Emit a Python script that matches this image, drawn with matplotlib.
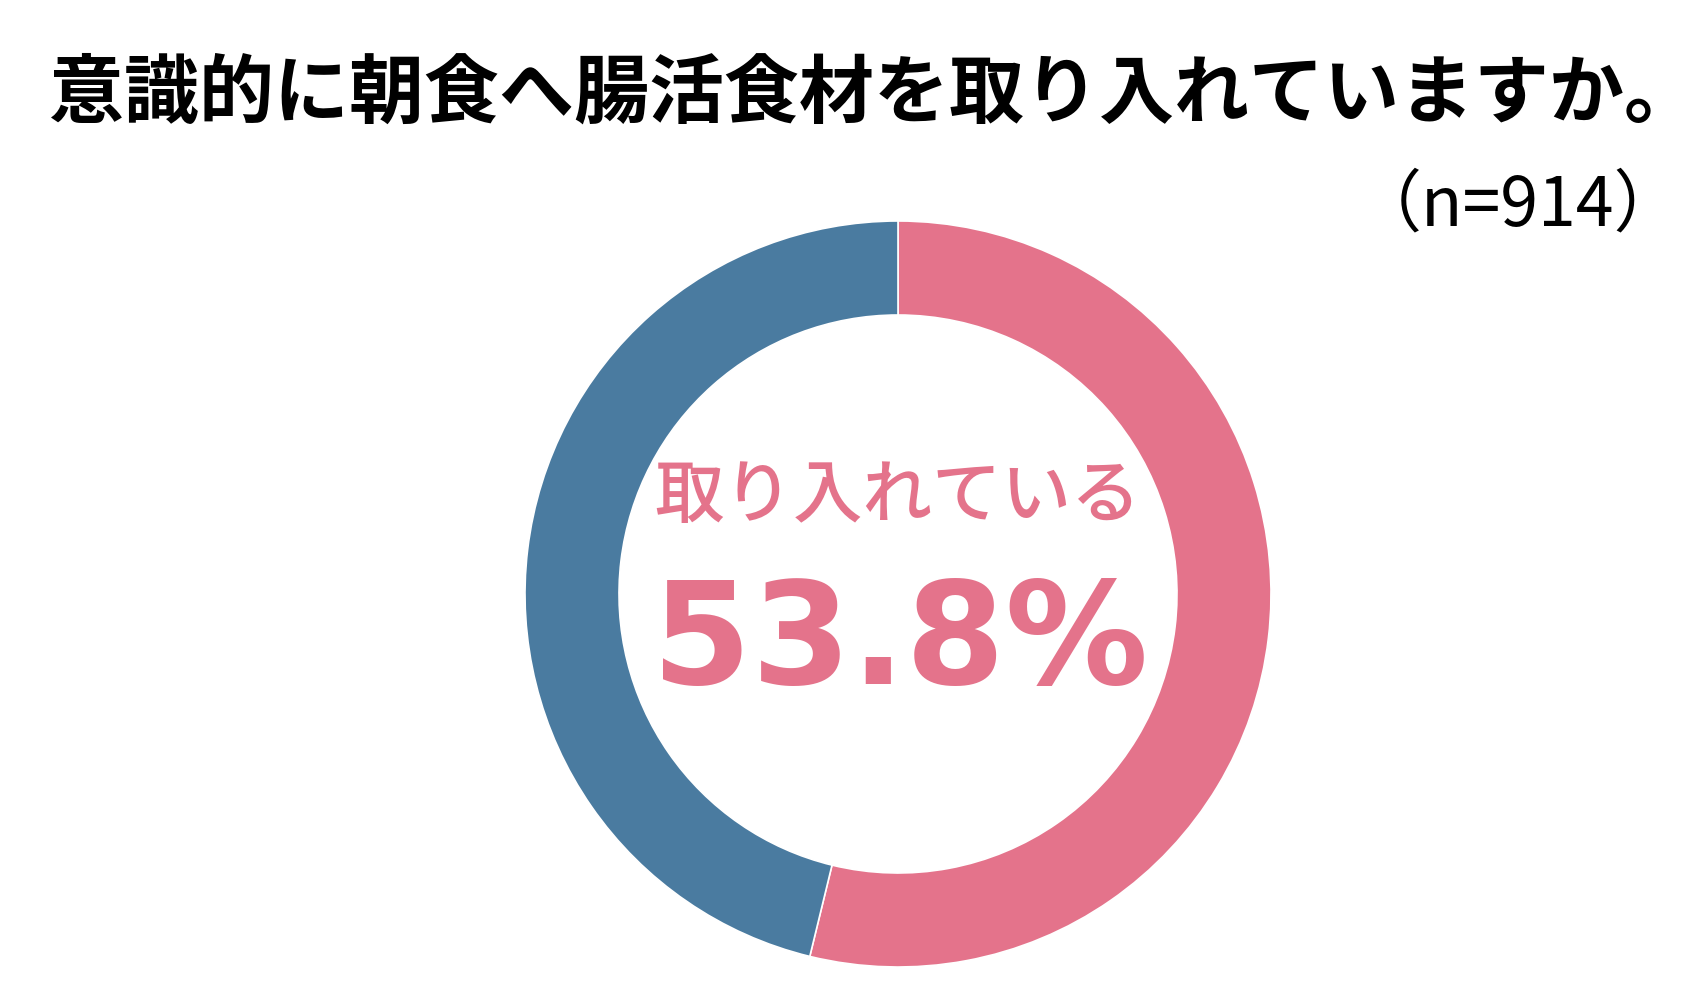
import matplotlib
matplotlib.use("Agg")
import matplotlib.pyplot as plt

# data
labels = ["取り入れている", "取り入れていない"]
shares = [53.8, 46.2]
colors = ["#E4738B", "#4A7BA0"]
title = "意識的に朝食へ腸活食材を取り入れていますか。"
n_label = "（n=914）"

W, H = 1697, 996
fig = plt.figure(figsize=(W / 100, H / 100), dpi=100, facecolor="white")
plt.rcParams["font.family"] = ["Noto Sans CJK JP", "DejaVu Sans"]

# donut axes, placed in pixel terms
cx, cy, r = 898, 996 - 594, 373
ax = fig.add_axes([(cx - r) / W, (cy - r) / H, 2 * r / W, 2 * r / H])
ax.pie(shares, colors=colors, startangle=90, counterclock=False, radius=1,
       wedgeprops=dict(width=0.252, edgecolor="white", linewidth=1.2))
ax.set_xlim(-1, 1)
ax.set_ylim(-1, 1)
ax.set_axis_off()

fig.text(874 / W, 1 - 95 / H, title, ha="center", va="center",
         fontsize=54, fontweight="bold", color="black")
fig.text(1682 / W, 1 - 206 / H, n_label, ha="right", va="center",
         fontsize=49, color="black")

fig.text(898 / W, 1 - 497 / H, labels[0], ha="center", va="center",
         fontsize=50, fontweight="medium", color=colors[0])
fig.text(900 / W, 1 - 645 / H, f"{shares[0]}%", ha="center", va="center",
         fontsize=103, fontweight="bold", color=colors[0],
         family=["DejaVu Sans"])

fig.savefig("out.png", dpi=100, facecolor="white")
